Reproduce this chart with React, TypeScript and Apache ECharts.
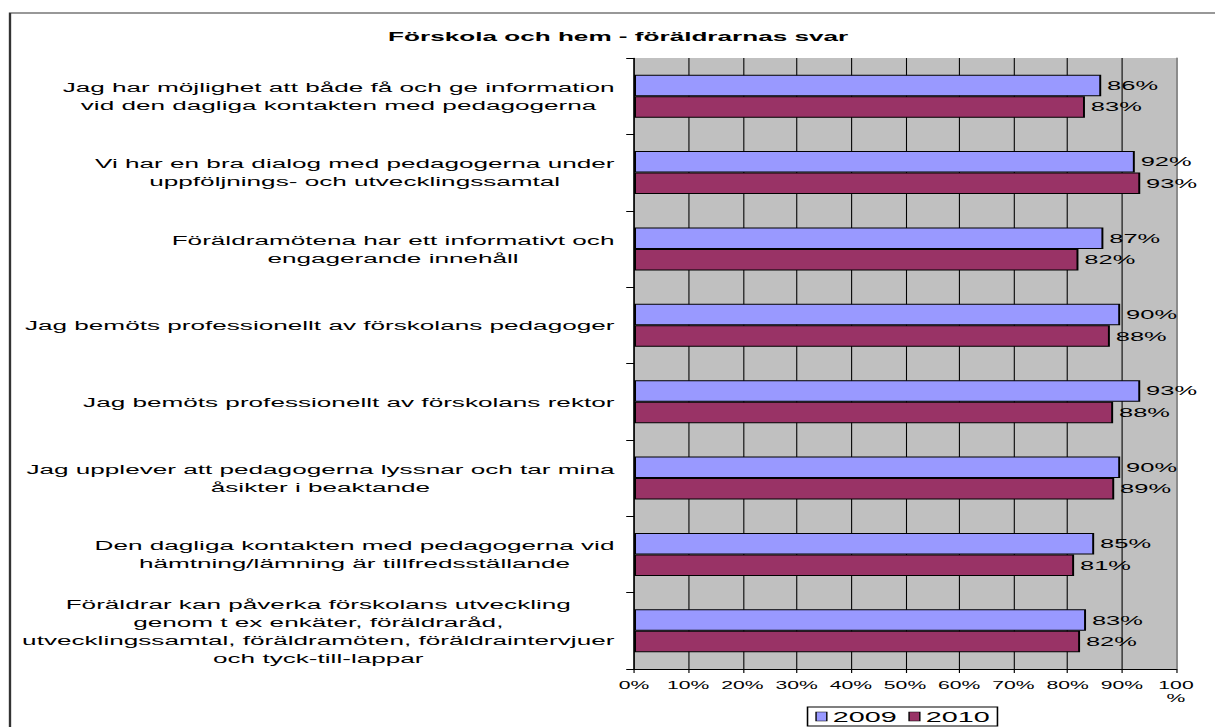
import React, { useEffect, useRef } from "react";
import * as echarts from "echarts";

const titleText = "Förskola och hem - föräldrarnas svar";
const categories = [
  "Jag har möjlighet att både få och ge information\nvid den dagliga kontakten med pedagogerna",
  "Vi har en bra dialog med pedagogerna under\nuppföljnings- och utvecklingssamtal",
  "Föräldramötena har ett informativt och\nengagerande innehåll",
  "Jag bemöts professionellt av förskolans pedagoger",
  "Jag bemöts professionellt av förskolans rektor",
  "Jag upplever att pedagogerna lyssnar och tar mina\nåsikter i beaktande",
  "Den dagliga kontakten med pedagogerna vid\nhämtning/lämning är tillfredsställande",
  "Föräldrar kan påverka förskolans utveckling\ngenom t ex enkäter, föräldraråd,\nutvecklingssamtal, föräldramöten, föräldraintervjuer\noch tyck-till-lappar",
];
const seriesNames = ["2009", "2010"];
const values2009 = [86.2, 92.4, 86.6, 89.7, 93.4, 89.7, 84.9, 83.4];
const values2010 = [83.2, 93.4, 82.0, 87.8, 88.4, 88.6, 81.2, 82.3];
const xTicks = [0, 10, 20, 30, 40, 50, 60, 70, 80, 90, 100];

const FONT = '"Liberation Sans", Arial, sans-serif';
const SX = 1.96;
const W = 620;
const H = 727;

export default function App() {
  const ref = useRef<HTMLDivElement>(null);
  useEffect(() => {
    if (!ref.current) return;
    const chart = echarts.init(ref.current, undefined, { renderer: "svg" });
    const gridColors = xTicks.map((t) => (t === 100 ? "#8a8a8a" : "#000000"));
    const option: any = {
      animation: false,
      backgroundColor: "#ffffff",
      title: {
        text: titleText,
        left: 198,
        top: 30,
        padding: 0,
        textStyle: { fontFamily: FONT, fontSize: 13.33, fontWeight: "bold", color: "#000" },
      },
      legend: {
        data: seriesNames,
        left: 412,
        top: 707,
        padding: [2, 4, 2, 4],
        itemGap: 6,
        itemWidth: 5.5,
        itemHeight: 9,
        icon: "rect",
        borderColor: "#000",
        borderWidth: 0.8,
        borderRadius: 0,
        itemStyle: { borderColor: "#000", borderWidth: 0.7 },
        textStyle: { fontFamily: FONT, fontSize: 14.67, color: "#000", padding: [0, 0, 0, -2] },
      },
      graphic: [
        {
          type: "rect",
          shape: { x: 5.1, y: 13, width: 800, height: 900 },
          style: { fill: "none", stroke: "#333", lineWidth: 1.2 },
          silent: true,
        },
      ],
      grid: {
        left: 323.5,
        right: W - 600,
        top: 58,
        bottom: H - 669,
        show: true,
        backgroundColor: "#C0C0C0",
        borderWidth: 0,
      },
      xAxis: {
        type: "value",
        min: 0,
        max: 100,
        interval: 10,
        axisLine: { show: true, lineStyle: { color: "#000", width: 1 } },
        axisTick: { show: true, length: 4, lineStyle: { color: "#000", width: 0.6 } },
        axisLabel: {
          margin: 10,
          fontFamily: FONT,
          fontSize: 10.8,
          lineHeight: 13,
          color: "#000",
          formatter: (v: number) => (v === 100 ? "100\n%" : v + "%"),
        },
        splitLine: { show: true, lineStyle: { color: gridColors, width: 0.55 } },
      },
      yAxis: [
        {
          type: "category",
          data: categories,
          inverse: true,
          axisLine: { show: true, lineStyle: { color: "#000", width: 0.7 } },
          axisTick: { show: true, length: 4, lineStyle: { color: "#000", width: 1 } },
          axisLabel: {
            margin: 10,
            fontFamily: FONT,
            fontSize: 13.33,
            lineHeight: 18,
            color: "#000",
            formatter: (v: string) =>
              v
                .split("\n")
                .map((l) => "{c|" + l + "}")
                .join("\n"),
            rich: {
              c: { align: "center", fontFamily: FONT, fontSize: 13.33, lineHeight: 18, color: "#000" },
            },
          },
          splitLine: { show: false },
        },
        {
          type: "category",
          data: categories,
          inverse: true,
          position: "right",
          axisLine: { show: true, lineStyle: { color: "#8a8a8a", width: 1 } },
          axisTick: { show: false },
          axisLabel: { show: false },
          splitLine: { show: false },
        },
      ],
      series: [
        {
          name: seriesNames[0],
          type: "bar",
          data: values2009,
          barWidth: 21.5,
          barGap: "0%",
          itemStyle: { color: "#9999FF", borderColor: "#000", borderWidth: 1 },
          label: {
            show: true,
            position: "right",
            distance: 3,
            fontFamily: FONT,
            fontSize: 13,
            color: "#000",
            formatter: (p: any) => Math.round(p.value) + "%",
          },
        },
        {
          name: seriesNames[1],
          type: "bar",
          data: values2010,
          barWidth: 21.5,
          barGap: "0%",
          itemStyle: { color: "#993366", borderColor: "#000", borderWidth: 1 },
          label: {
            show: true,
            position: "right",
            distance: 3,
            fontFamily: FONT,
            fontSize: 13,
            color: "#000",
            formatter: (p: any) => Math.round(p.value) + "%",
          },
        },
      ],
    };
    chart.setOption(option);
    return () => chart.dispose();
  }, []);
  return (
    <div
      style={{
        position: "fixed",
        left: 0,
        top: 0,
        width: W * SX,
        height: H,
        overflow: "hidden",
        background: "#fff",
      }}
    >
      <div
        ref={ref}
        style={{
          width: W,
          height: H,
          transform: `scaleX(${SX})`,
          transformOrigin: "0 0",
        }}
      />
    </div>
  );
}
